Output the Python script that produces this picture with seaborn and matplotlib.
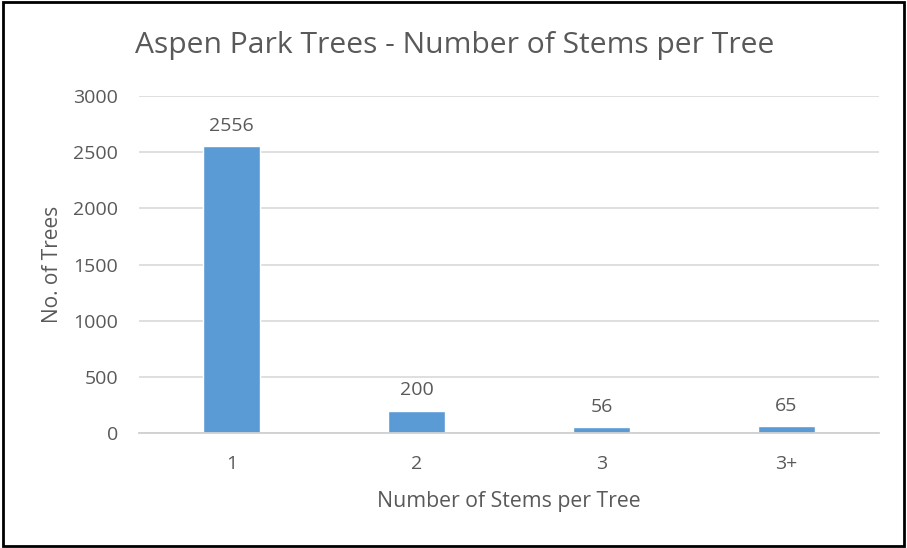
import matplotlib
matplotlib.use("Agg")
import matplotlib.pyplot as plt
from matplotlib.patches import Rectangle
import seaborn as sns
import pandas as pd

categories = ["1", "2", "3", "3+"]
tree_counts = [2556, 200, 56, 65]
y_ticks = [0, 500, 1000, 1500, 2000, 2500, 3000]

sns.set_theme(style="white")
plt.rcParams["font.family"] = ["Open Sans", "DejaVu Sans"]

text_gray = "#595959"
bar_blue = "#5B9BD5"

df = pd.DataFrame({"stems": categories, "trees": tree_counts})

fig = plt.figure(figsize=(9.07, 5.48), dpi=100)
ax = fig.add_axes([139 / 907, 1 - 433 / 548, 740 / 907, 337 / 548])

sns.barplot(data=df, x="stems", y="trees", color=bar_blue, width=0.31,
            saturation=1, ax=ax, zorder=3)

ax.set_ylim(0, 3000)
ax.set_xlim(-0.5, 3.5)
ax.set_yticks(y_ticks)
ax.yaxis.grid(True, color="#D9D9D9", linewidth=1.2, zorder=0)
ax.xaxis.grid(False)
for side in ["top", "right", "left"]:
    ax.spines[side].set_visible(False)
ax.spines["bottom"].set_color("#D0D0D0")
ax.spines["bottom"].set_linewidth(1.3)
ax.spines["bottom"].set_zorder(4)
ax.tick_params(axis="both", length=0, labelsize=14, colors=text_gray)
ax.tick_params(axis="x", pad=16)
ax.tick_params(axis="y", pad=15)

for container in ax.containers:
    ax.bar_label(container, labels=[str(v) for v in tree_counts], padding=8,
                 fontsize=14, color=text_gray)

ax.set_xlabel("Number of Stems per Tree", fontsize=15.3, color=text_gray, labelpad=13)
ax.set_ylabel("No. of Trees", fontsize=15, color=text_gray, labelpad=7)

fig.text(455 / 907, 1 - 45 / 548, "Aspen Park Trees - Number of Stems per Tree",
         ha="center", va="center", fontsize=21.6, color=text_gray)

fig.patches.append(Rectangle((0.003, 0.004), 0.994, 0.992, transform=fig.transFigure,
                             fill=False, edgecolor="black", linewidth=2))

fig.savefig("out.png", dpi=100)
